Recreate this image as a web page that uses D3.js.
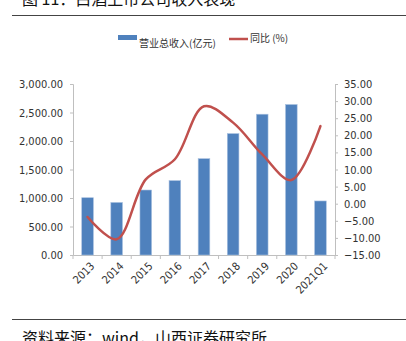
<!DOCTYPE html>
<html>
<head>
<meta charset="utf-8">
<script src="https://cdn.jsdelivr.net/npm/d3@7"></script>
<style>
  html, body { margin: 0; padding: 0; background: #fff; }
  svg { display: block; }
</style>
</head>
<body>
<svg id="chart" width="406" height="341"></svg>
<script>
// Liquor listed companies: total operating revenue (100m yuan) and YoY growth (%)
const categories = ["2013", "2014", "2015", "2016", "2017", "2018", "2019", "2020", "2021Q1"];
const revenue = [1005, 922, 1140, 1305, 1690, 2130, 2470, 2640, 948];
const growth = [-3.9, -10.4, 7.1, 13.0, 28.5, 23.7, 14.4, 6.9, 22.7];
const leftTicks = [0, 500, 1000, 1500, 2000, 2500, 3000];
const rightTicks = [-15, -10, -5, 0, 5, 10, 15, 20, 25, 30, 35];

const svg = d3.select("#chart");
const numFont = "'Liberation Sans Narrow', 'DejaVu Sans Condensed', 'Liberation Sans', sans-serif";
const cjkFont = "'Noto Sans CJK SC', sans-serif";

const plot = { left: 73, right: 335, top: 84, bottom: 255 };

const x = d3.scaleBand().domain(categories).range([plot.left, plot.right]).paddingInner(0).paddingOuter(0);
const yL = d3.scaleLinear().domain([0, 3000]).range([plot.bottom, plot.top]);
const yR = d3.scaleLinear().domain([-15, 35]).range([plot.bottom, plot.top]);

// Header (title sits mostly above the visible area) and rule
svg.append("text")
  .attr("x", 22).attr("y", 5)
  .attr("font-family", cjkFont).attr("font-size", 16).attr("fill", "#111")
  .text("图 11：白酒上市公司收入表现");
svg.append("line")
  .attr("x1", 12).attr("x2", 406).attr("y1", 15.5).attr("y2", 15.5)
  .attr("stroke", "#444").attr("stroke-width", 1.2);

// Footer rule and source
svg.append("line")
  .attr("x1", 12).attr("x2", 406).attr("y1", 319.5).attr("y2", 319.5)
  .attr("stroke", "#444").attr("stroke-width", 1.2);
svg.append("text")
  .attr("x", 22).attr("y", 344)
  .attr("font-family", cjkFont).attr("font-size", 16).attr("fill", "#111")
  .text("资料来源：wind，山西证券研究所");

// Legend
const legend = svg.append("g");
legend.append("rect").attr("x", 118).attr("y", 35).attr("width", 19).attr("height", 5).attr("fill", "#4f81bd");
legend.append("text").attr("x", 139).attr("y", 47)
  .attr("font-family", cjkFont).attr("font-size", 10).attr("fill", "#333")
  .text("营业总收入(亿元)");
legend.append("line").attr("x1", 229).attr("x2", 248).attr("y1", 39).attr("y2", 39)
  .attr("stroke", "#c0504d").attr("stroke-width", 2.5);
legend.append("text").attr("x", 250).attr("y", 42)
  .attr("font-family", cjkFont).attr("font-size", 10).attr("fill", "#333")
  .text("同比 (%)");

// Axes
const axisColor = "#bfbfbf";
const leftAxis = svg.append("g").attr("transform", `translate(${plot.left},0)`)
  .call(d3.axisLeft(yL).tickValues(leftTicks).tickSize(3).tickPadding(7)
    .tickFormat(d => d3.format(",.2f")(d)));
const rightAxis = svg.append("g").attr("transform", `translate(${plot.right},0)`)
  .call(d3.axisRight(yR).tickValues(rightTicks).tickSize(3).tickPadding(6)
    .tickFormat(d => d3.format(".2f")(d)));
const bottomAxis = svg.append("g").attr("transform", `translate(0,${plot.bottom})`)
  .call(d3.axisBottom(x).tickSize(0).tickFormat(""));

[leftAxis, rightAxis, bottomAxis].forEach(g => {
  g.select(".domain").attr("stroke", axisColor);
  g.selectAll(".tick line").attr("stroke", axisColor);
  g.selectAll(".tick text").attr("font-family", numFont).attr("font-size", 11).attr("fill", "#333");
});

// Category boundary ticks on the bottom axis
const bounds = categories.map(c => x(c)).concat([plot.right]);
svg.append("g").selectAll("line").data(bounds).join("line")
  .attr("x1", d => d).attr("x2", d => d)
  .attr("y1", plot.bottom).attr("y2", plot.bottom + 4)
  .attr("stroke", axisColor);

// Rotated category labels
svg.append("g").selectAll("text").data(categories).join("text")
  .attr("transform", d => `translate(${x(d) + x.bandwidth() / 2 + 5},${plot.bottom + 9}) rotate(-45)`)
  .attr("text-anchor", "end")
  .attr("dy", "0.35em")
  .attr("font-family", numFont).attr("font-size", 11).attr("fill", "#333")
  .text(d => d);

// Revenue bars
const barW = x.bandwidth() * 0.4;
svg.append("g").selectAll("rect").data(categories).join("rect")
  .attr("x", d => x(d) + (x.bandwidth() - barW) / 2)
  .attr("width", barW)
  .attr("y", (d, i) => yL(revenue[i]))
  .attr("height", (d, i) => yL(0) - yL(revenue[i]))
  .attr("fill", "#4f81bd")
  .attr("stroke", "#a9c1e0").attr("stroke-width", 0.6);

// Growth line (smoothed)
const line = d3.line()
  .x(d => x(d.c) + x.bandwidth() / 2)
  .y(d => yR(d.v))
  .curve(d3.curveCatmullRom.alpha(0.5));
svg.append("path")
  .datum(categories.map((c, i) => ({ c, v: growth[i] })))
  .attr("d", line)
  .attr("fill", "none")
  .attr("stroke", "#c0504d")
  .attr("stroke-width", 2.5)
  .attr("stroke-linecap", "round");
</script>
</body>
</html>
